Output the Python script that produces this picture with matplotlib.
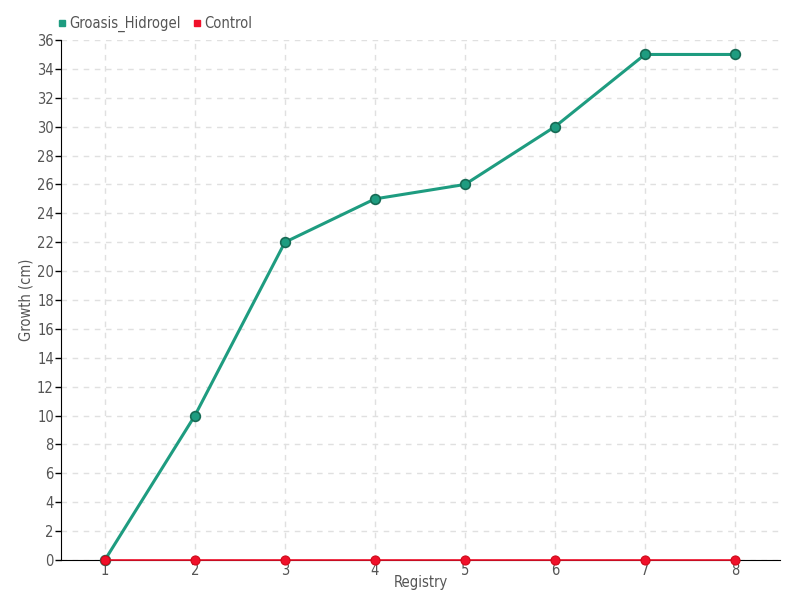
import matplotlib
matplotlib.use("Agg")
import matplotlib.pyplot as plt
from matplotlib.lines import Line2D

registry = [1, 2, 3, 4, 5, 6, 7, 8]
groasis = [0, 10, 22, 25, 26, 30, 35, 35]
control = [0, 0, 0, 0, 0, 0, 0, 0]

green = "#1e9c80"
red = "#f0102a"
txt = "#555555"

plt.rcParams['font.family'] = ['DejaVu Sans']
plt.rcParams['font.stretch'] = 'condensed'

fig = plt.figure(figsize=(8, 6), dpi=100)
ax = fig.add_axes([0.076, 0.0667, 0.899, 0.8666])

ax.plot(registry, groasis, color=green, lw=2.2, marker='o', ms=7,
        mfc=green, mec="#176b55", mew=1.2, zorder=5, clip_on=False)
ax.plot(registry, control, color=red, lw=1.2, marker='o', ms=6.5,
        mfc=red, mec="#d00818", mew=0.8, zorder=6, clip_on=False)

ax.set_xlim(0.51, 8.5)
ax.set_ylim(0, 36)
ax.set_xticks(registry)
ax.set_yticks(range(0, 37, 2))
ax.grid(True, color="#e0e0e0", ls=(0, (4, 4)), lw=1)
ax.set_axisbelow(True)
for s in ['top', 'right']:
    ax.spines[s].set_visible(False)
ax.spines['left'].set_color('black')
ax.spines['bottom'].set_color('black')
ax.spines['bottom'].set_zorder(1)
ax.tick_params(axis='y', length=4, width=1, colors=txt, labelsize=10.5, pad=1)
ax.tick_params(axis='x', length=0, colors=txt, labelsize=10.5, pad=2)
ax.tick_params(axis='both', color='black')

ax.set_xlabel("Registry", color=txt, fontsize=10.5, labelpad=-2)
ax.set_ylabel("Growth (cm)", color=txt, fontsize=10.5)
ax.yaxis.set_label_coords(-0.038, 0.5)

handles = [Line2D([], [], ls='', marker='s', ms=5, color=green, label='Groasis_Hidrogel'),
           Line2D([], [], ls='', marker='s', ms=5, color=red, label='Control')]
leg = fig.legend(handles=handles, loc='upper left', bbox_to_anchor=(0.052, 0.995), ncol=2,
                 frameon=False, fontsize=10.5, handletextpad=0.0, columnspacing=0.6,
                 handlelength=1.0)
for t in leg.get_texts():
    t.set_color(txt)

fig.savefig("out.png", dpi=100)
